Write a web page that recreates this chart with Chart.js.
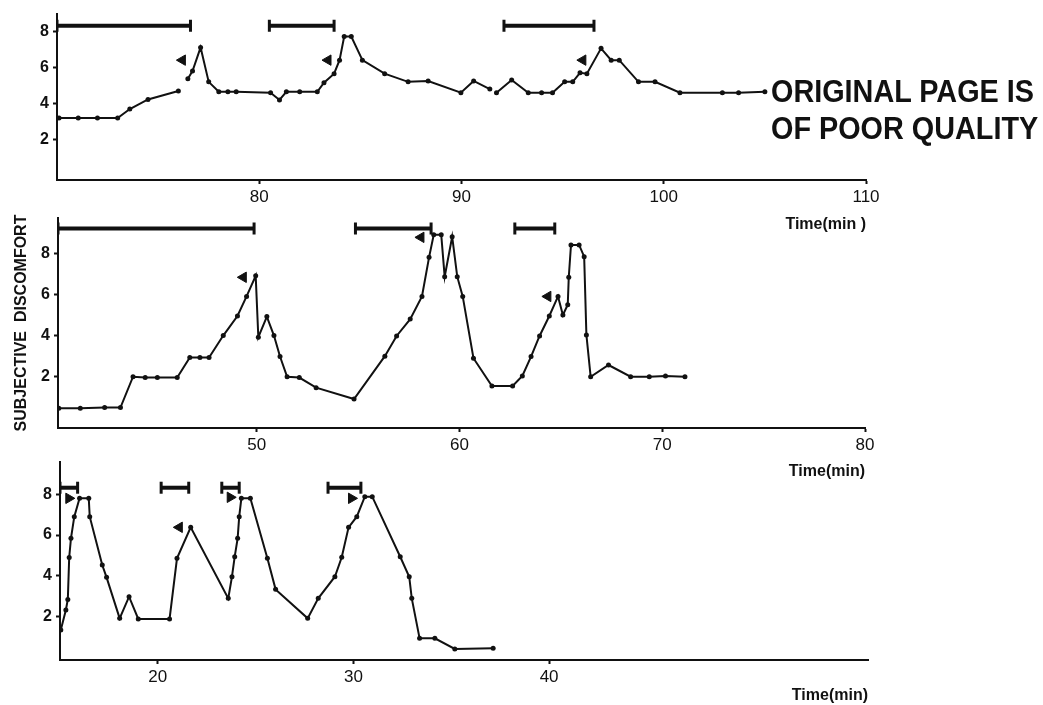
<!DOCTYPE html>
<html>
<head>
<meta charset="utf-8">
<script src="https://cdn.jsdelivr.net/npm/chart.js@4.4.1/dist/chart.umd.min.js"></script>
<style>
  html, body { margin:0; padding:0; background:#fff; }
  #wrap { position:relative; width:1043px; height:705px; overflow:hidden; background:#fff; }
  #wrap canvas { position:absolute; left:0; top:0; }
  .stamp { position:absolute; left:771px; font-family:"Liberation Sans", Arial, sans-serif; font-weight:bold;
           font-size:32px; line-height:37px; white-space:nowrap; transform:scaleX(0.9); transform-origin:left top; color:#111; }
</style>
</head>
<body>
<div id="wrap">
  <canvas id="panelA" width="1043" height="705"></canvas>
  <canvas id="panelB" width="1043" height="705"></canvas>
  <canvas id="panelC" width="1043" height="705"></canvas>
  <div class="stamp" style="top:73px">ORIGINAL PAGE IS</div>
  <div class="stamp" style="top:110px">OF POOR QUALITY</div>
</div>
<script>
// ---- DATA ----
// top panel
const timeA = [70.1, 71.05, 72.0, 73.0, 73.6, 74.5, 76.0, 76.2, 76.47, 76.7, 77.1, 77.5, 78.0, 78.45, 78.86,
  80.56, 81.0, 81.34, 82.0, 82.87, 83.2, 83.7, 83.97, 84.2, 84.55, 85.1, 86.2, 87.36, 88.35, 89.97, 90.6, 91.4,
  91.55, 91.73, 92.48, 93.3, 93.96, 94.5, 95.1, 95.5, 95.86, 96.2, 96.9, 97.4, 97.8, 98.75, 99.57, 100.8, 102.9, 103.7, 105.0];
const discomfortA = [3.2, 3.2, 3.2, 3.2, 3.7, 4.23, 4.7, null, 5.37, 5.8, 7.1, 5.2, 4.65, 4.65, 4.65,
  4.6, 4.2, 4.65, 4.65, 4.65, 5.15, 5.65, 6.4, 7.7, 7.7, 6.4, 5.65, 5.2, 5.25, 4.6, 5.25, 4.8,
  null, 4.6, 5.3, 4.6, 4.6, 4.6, 5.2, 5.2, 5.7, 5.65, 7.05, 6.4, 6.4, 5.2, 5.2, 4.6, 4.6, 4.6, 4.65];
const barsA = [[70, 76.6], [80.5, 83.7], [92.1, 96.55]];
const barLevelA = 8.3;
const arrowTimeA = [76.2, 83.4, 96.0];
const arrowLevelA = [6.4, 6.4, 6.4];
const arrowDirA = [-1, -1, -1];
const xTicksA = [80, 90, 100, 110];

// middle panel
const timeB = [40.24, 41.3, 42.5, 43.28, 43.9, 44.5, 45.1, 46.08, 46.7, 47.2, 47.65, 48.35, 49.05, 49.5, 49.95,
  50.08, 50.5, 50.85, 51.15, 51.5, 52.1, 52.93, 54.8, 56.32, 56.9, 57.57, 58.15, 58.5, 58.73, 59.1, 59.27, 59.64,
  59.89, 60.16, 60.69, 61.6, 62.62, 63.1, 63.53, 63.95, 64.43, 64.86, 65.1, 65.34, 65.39, 65.5, 65.9, 66.15, 66.26,
  66.47, 67.35, 68.44, 69.36, 70.16, 71.12];
const discomfortB = [0.47, 0.47, 0.5, 0.5, 2.0, 1.96, 1.96, 1.96, 2.93, 2.93, 2.93, 4.0, 4.95, 5.9, 6.9,
  3.92, 4.92, 4.0, 2.98, 2.0, 1.96, 1.47, 0.92, 3.0, 3.98, 4.8, 5.9, 7.8, 8.9, 8.9, 6.86, 8.8,
  6.86, 5.9, 2.9, 1.55, 1.55, 2.04, 2.98, 3.98, 4.95, 5.9, 5.0, 5.5, 6.83, 8.4, 8.4, 7.83, 4.03,
  2.0, 2.57, 2.0, 2.0, 2.04, 2.0];
const barsB = [[40.2, 49.87], [54.87, 58.6], [62.73, 64.7]];
const barLevelB = 9.2;
const arrowTimeB = [49.34, 58.1, 64.36];
const arrowLevelB = [6.83, 8.77, 5.9];
const arrowDirB = [-1, -1, -1];
const xTicksB = [50, 60, 70, 80];

// bottom panel
const timeC = [15.04, 15.3, 15.4, 15.47, 15.56, 15.73, 16.0, 16.47, 16.52, 17.16, 17.38, 18.05, 18.53, 19.0,
  20.6, 20.98, 21.68, 23.6, 23.79, 23.93, 24.08, 24.16, 24.27, 24.73, 25.6, 26.02, 27.66, 28.2, 29.05, 29.4,
  29.75, 30.17, 30.58, 30.96, 32.39, 32.85, 32.98, 33.38, 34.16, 35.18, 37.14];
const discomfortC = [1.35, 2.33, 2.85, 4.9, 5.84, 6.9, 7.8, 7.8, 6.9, 4.53, 3.93, 1.92, 2.98, 1.89,
  1.89, 4.86, 6.38, 2.9, 3.96, 4.94, 5.84, 6.9, 7.8, 7.8, 4.86, 3.34, 1.92, 2.9, 3.96, 4.91,
  6.38, 6.9, 7.88, 7.88, 4.94, 3.96, 2.9, 0.94, 0.94, 0.42, 0.45];
const barsC = [[15, 15.9], [20.17, 21.58], [23.27, 24.16], [28.7, 30.38]];
const barLevelC = 8.32;
const arrowTimeC = [15.45, 21.1, 23.7, 29.9];
const arrowLevelC = [7.8, 6.38, 7.85, 7.8];
const arrowDirC = [1, -1, 1, 1];
const xTicksC = [20, 30, 40];

const yTicks = [2, 4, 6, 8];

// ---- DRAWING ----
const INK = '#111';
const FONT = '"Liberation Sans", Arial, sans-serif';

function makePanel(id, p) {
  const datasets = [];
  // the discomfort curve
  datasets.push({
    data: p.time.map((t, i) => ({ x: t, y: p.values[i] })),
    borderColor: INK, borderWidth: 2, spanGaps: false,
    pointRadius: 2.5, pointBackgroundColor: INK, pointBorderColor: INK, pointBorderWidth: 0
  });
  // exposure intervals
  p.bars.forEach(b => {
    datasets.push({
      data: [{ x: b[0], y: p.barLevel }, { x: b[1], y: p.barLevel }],
      borderColor: INK, borderWidth: 4,
      pointStyle: 'line', pointRotation: 90, pointRadius: 6, pointBorderWidth: 3, pointBorderColor: INK
    });
  });
  // arrow marks
  datasets.push({
    data: p.arrowTime.map((t, i) => ({ x: t, y: p.arrowLevel[i] })),
    showLine: false, pointStyle: 'triangle', pointRadius: 6,
    pointRotation: p.arrowDir.map(d => d < 0 ? -90 : 90),
    pointBackgroundColor: INK, pointBorderColor: INK, pointBorderWidth: 1
  });

  return new Chart(document.getElementById(id), {
    type: 'line',
    data: { datasets },
    options: {
      responsive: false, animation: false, devicePixelRatio: 1,
      events: [],
      layout: { padding: { left: 0, top: p.area.top, right: 1043 - p.area.right, bottom: p.padBottom } },
      plugins: { legend: { display: false }, tooltip: { enabled: false } },
      scales: {
        x: {
          type: 'linear', min: p.xMin, max: p.xMax,
          afterBuildTicks: s => { s.ticks = p.xTicks.map(v => ({ value: v })); },
          afterFit: s => { s.height = p.xBoxH; },
          grid: { drawOnChartArea: false, drawTicks: true, tickLength: 4, color: INK, tickWidth: 2 },
          border: { display: true, color: INK, width: 2 },
          ticks: { color: INK, font: { family: FONT, size: 17 }, padding: 3, maxRotation: 0, autoSkip: false },
          title: { display: true, text: p.xTitle, align: 'end', color: INK,
                   font: { family: FONT, size: 16, weight: 'bold' }, padding: { top: 0, bottom: 0 } }
        },
        y: {
          type: 'linear', min: p.yMin, max: p.yMax,
          afterBuildTicks: s => { s.ticks = yTicks.map(v => ({ value: v })); },
          afterFit: s => { s.width = p.area.left; },
          grid: { drawOnChartArea: false, drawTicks: true, tickLength: 4, color: INK, tickWidth: 2 },
          border: { display: true, color: INK, width: 2 },
          ticks: { color: INK, font: { family: FONT, size: 16, weight: 'bold' }, padding: 4 },
          title: { display: !!p.yTitle, text: p.yTitle, color: INK,
                   font: { family: FONT, size: 16, weight: 'bold' }, padding: { top: 12, bottom: 0 } }
        }
      }
    }
  });
}

makePanel('panelA', {
  time: timeA, values: discomfortA, bars: barsA, barLevel: barLevelA,
  arrowTime: arrowTimeA, arrowLevel: arrowLevelA, arrowDir: arrowDirA, xTicks: xTicksA,
  xMin: 70, xMax: 110, yMin: -0.22, yMax: 8.97,
  area: { left: 57, right: 866, top: 10 }, xBoxH: 54, padBottom: 471, xTitle: 'Time(min )'
});
makePanel('panelB', {
  time: timeB, values: discomfortB, bars: barsB, barLevel: barLevelB,
  arrowTime: arrowTimeB, arrowLevel: arrowLevelB, arrowDir: arrowDirB, xTicks: xTicksB,
  xMin: 40.2, xMax: 80, yMin: -0.49, yMax: 9.71,
  area: { left: 58, right: 865, top: 218 }, xBoxH: 53, padBottom: 224, xTitle: 'Time(min)',
  yTitle: 'SUBJECTIVE  DISCOMFORT'
});
makePanel('panelC', {
  time: timeC, values: discomfortC, bars: barsC, barLevel: barLevelC,
  arrowTime: arrowTimeC, arrowLevel: arrowLevelC, arrowDir: arrowDirC, xTicks: xTicksC,
  xMin: 15, xMax: 56.3, yMin: -0.12, yMax: 9.58,
  area: { left: 60, right: 868, top: 462 }, xBoxH: 45, padBottom: 0, xTitle: 'Time(min)'
});
</script>
</body>
</html>
